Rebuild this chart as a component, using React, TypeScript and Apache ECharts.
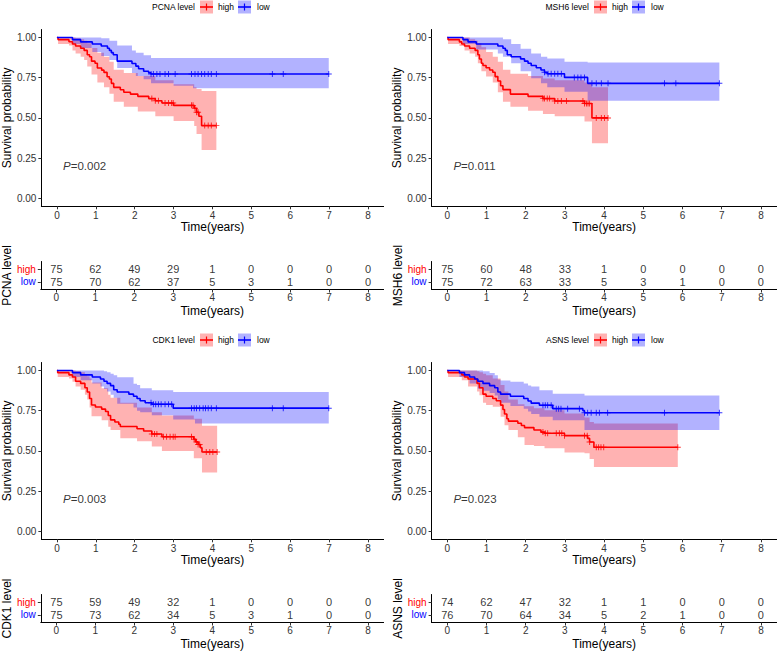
import React, { useEffect, useRef } from "react";
import * as echarts from "echarts";

const FONT = "'Liberation Sans', Arial, Helvetica, sans-serif";
const RED = "#FF0000";
const BLUE = "#0000FF";
const RED_FILL = "rgba(255,0,0,0.3)";
const BLUE_FILL = "rgba(0,0,255,0.3)";

const GENES = ["PCNA", "MSH6", "CDK1", "ASNS"];
const P_VALUES = ["0.002", "0.011", "0.003", "0.023"];
const TIME_TICKS = [0, 1, 2, 3, 4, 5, 6, 7, 8];
const SURV_TICKS = [0, 0.25, 0.5, 0.75, 1];

// ---------- PCNA ----------
const PCNA_HIGH_CURVE = [[0,1],[0.03,0.987],[0.31,0.974],[0.40,0.96],[0.48,0.947],[0.61,0.933],[0.70,0.92],[0.78,0.893],[0.84,0.88],[0.89,0.853],[0.98,0.84],[1.04,0.81],[1.15,0.797],[1.21,0.783],[1.29,0.756],[1.35,0.742],[1.40,0.715],[1.46,0.69],[1.63,0.675],[1.72,0.66],[1.89,0.648],[2.08,0.634],[2.36,0.62],[2.53,0.607],[2.70,0.593],[3.00,0.578],[3.53,0.56],[3.59,0.535],[3.65,0.51],[3.72,0.452],[4.10,0.452]];
const PCNA_HIGH_CENSOR = [2.44,2.53,2.61,2.78,2.87,2.95,2.99,3.46,3.50,3.55,3.59,3.63,3.80,3.89,3.97,4.10];
const PCNA_HIGH_CI = [[0,1,1],[0.03,0.96,1],[0.31,0.95,1],[0.40,0.92,1],[0.48,0.90,0.995],[0.61,0.88,0.99],[0.70,0.86,0.98],[0.78,0.82,0.965],[0.89,0.77,0.935],[1.04,0.72,0.905],[1.21,0.69,0.88],[1.35,0.65,0.85],[1.46,0.60,0.80],[1.72,0.57,0.78],[2.08,0.54,0.76],[2.53,0.51,0.735],[3.0,0.48,0.71],[3.53,0.45,0.69],[3.59,0.40,0.68],[3.72,0.30,0.668]];
const PCNA_LOW_CURVE = [[0,1],[0.40,0.987],[0.61,0.973],[0.91,0.96],[1.14,0.947],[1.30,0.933],[1.35,0.92],[1.40,0.906],[1.45,0.893],[1.55,0.853],[1.93,0.838],[2.03,0.822],[2.10,0.806],[2.23,0.79],[2.36,0.78],[2.42,0.773],[6.99,0.773]];
const PCNA_LOW_CENSOR = [2.42,2.48,2.57,2.65,2.78,2.87,3.04,3.46,3.55,3.63,3.72,3.80,3.89,3.97,4.10,5.54,5.82,6.99];
const PCNA_LOW_CI = [[0,1,1],[0.40,0.96,1],[0.61,0.935,1],[0.91,0.91,1],[1.14,0.885,0.995],[1.35,0.86,0.98],[1.55,0.81,0.95],[1.93,0.78,0.92],[2.03,0.76,0.905],[2.23,0.74,0.89],[2.42,0.715,0.872],[3.0,0.70,0.872],[3.5,0.685,0.872]];
const PCNA_RISK_HIGH = [75, 62, 49, 29, 1, 0, 0, 0, 0];
const PCNA_RISK_LOW = [75, 70, 62, 37, 5, 3, 1, 0, 0];

// ---------- MSH6 ----------
const MSH6_HIGH_CURVE = [[0,1],[0.02,0.987],[0.31,0.973],[0.37,0.96],[0.44,0.947],[0.57,0.933],[0.71,0.92],[0.78,0.893],[0.82,0.866],[0.87,0.84],[0.91,0.826],[0.99,0.812],[1.08,0.798],[1.16,0.784],[1.22,0.757],[1.29,0.73],[1.36,0.70],[1.42,0.676],[1.61,0.648],[2.06,0.634],[2.44,0.62],[2.74,0.605],[3.50,0.59],[3.69,0.50],[4.10,0.50]];
const MSH6_HIGH_CENSOR = [2.44,2.48,2.55,2.61,2.74,2.82,2.91,3.04,3.46,3.50,3.55,3.59,3.63,3.80,3.93,4.01,4.10];
const MSH6_HIGH_CI = [[0,1,1],[0.02,0.96,1],[0.31,0.947,1],[0.44,0.92,1],[0.57,0.90,0.99],[0.71,0.88,0.98],[0.78,0.84,0.965],[0.87,0.79,0.94],[0.99,0.757,0.91],[1.16,0.72,0.88],[1.29,0.66,0.85],[1.42,0.60,0.80],[1.61,0.57,0.775],[2.06,0.545,0.76],[2.44,0.525,0.745],[2.74,0.51,0.735],[3.50,0.477,0.72],[3.69,0.342,0.69]];
const MSH6_LOW_CURVE = [[0,1],[0.40,0.987],[0.53,0.973],[0.74,0.96],[1.29,0.947],[1.42,0.933],[1.48,0.92],[1.53,0.893],[1.63,0.88],[1.87,0.867],[1.97,0.853],[2.06,0.84],[2.14,0.826],[2.27,0.812],[2.39,0.798],[2.48,0.784],[2.55,0.775],[2.99,0.752],[3.58,0.715],[6.94,0.715]];
const MSH6_LOW_CENSOR = [2.48,2.57,2.65,2.74,2.82,2.91,3.24,3.33,3.41,3.50,3.69,3.80,3.93,4.10,5.54,5.83,6.94];
const MSH6_LOW_CI = [[0,1,1],[0.40,0.96,1],[0.74,0.925,1],[1.29,0.90,1],[1.42,0.88,0.99],[1.63,0.84,0.96],[1.87,0.79,0.93],[2.14,0.746,0.90],[2.39,0.715,0.88],[2.55,0.69,0.87],[2.99,0.663,0.85],[3.58,0.607,0.844]];
const MSH6_RISK_HIGH = [75, 60, 48, 33, 1, 0, 0, 0, 0];
const MSH6_RISK_LOW = [75, 72, 63, 33, 5, 3, 1, 0, 0];

// ---------- CDK1 ----------
const CDK1_HIGH_CURVE = [[0,1],[0.02,0.987],[0.31,0.973],[0.40,0.96],[0.48,0.933],[0.61,0.92],[0.72,0.893],[0.78,0.866],[0.84,0.826],[0.89,0.786],[0.99,0.773],[1.15,0.76],[1.25,0.745],[1.32,0.72],[1.38,0.693],[1.49,0.68],[1.59,0.666],[1.63,0.652],[2.06,0.638],[2.23,0.624],[2.44,0.605],[2.70,0.588],[3.52,0.572],[3.57,0.556],[3.63,0.54],[3.69,0.52],[3.73,0.493],[4.12,0.493]];
const CDK1_HIGH_CENSOR = [2.44,2.51,2.57,2.74,2.82,2.91,2.99,3.04,3.46,3.53,3.59,3.63,3.67,3.84,3.93,4.01,4.12];
const CDK1_HIGH_CI = [[0,1,1],[0.02,0.96,1],[0.31,0.95,1],[0.40,0.93,1],[0.48,0.90,0.995],[0.61,0.88,0.99],[0.72,0.85,0.975],[0.78,0.82,0.965],[0.84,0.77,0.95],[0.89,0.716,0.925],[1.15,0.69,0.89],[1.32,0.65,0.85],[1.38,0.63,0.83],[1.63,0.578,0.80],[2.06,0.56,0.77],[2.44,0.527,0.74],[2.70,0.50,0.72],[3.52,0.455,0.70],[3.73,0.366,0.656]];
const CDK1_LOW_CURVE = [[0,1],[0.40,0.987],[0.61,0.973],[0.91,0.96],[1.12,0.947],[1.21,0.933],[1.29,0.92],[1.38,0.906],[1.46,0.88],[1.55,0.866],[1.85,0.853],[1.97,0.84],[2.06,0.826],[2.14,0.812],[2.27,0.80],[2.44,0.79],[2.99,0.766],[6.99,0.766]];
const CDK1_LOW_CENSOR = [2.42,2.48,2.54,2.61,2.68,2.78,2.87,2.95,3.46,3.53,3.59,3.67,3.76,3.82,3.89,3.97,4.10,5.54,5.82,6.99];
const CDK1_LOW_CI = [[0,1,1],[0.40,0.96,1],[0.61,0.94,1],[0.91,0.92,1],[1.12,0.90,1],[1.21,0.885,0.995],[1.29,0.87,0.99],[1.38,0.85,0.98],[1.46,0.83,0.97],[1.55,0.794,0.959],[1.97,0.77,0.918],[2.06,0.75,0.91],[2.14,0.74,0.89],[2.44,0.722,0.877],[2.99,0.695,0.866],[3.55,0.67,0.866]];
const CDK1_RISK_HIGH = [75, 59, 49, 32, 1, 0, 0, 0, 0];
const CDK1_RISK_LOW = [75, 73, 62, 34, 5, 3, 1, 0, 0];

// ---------- ASNS ----------
const ASNS_HIGH_CURVE = [[0,1],[0.02,0.987],[0.37,0.973],[0.44,0.96],[0.53,0.947],[0.76,0.92],[0.82,0.893],[0.91,0.853],[0.99,0.84],[1.16,0.826],[1.25,0.812],[1.36,0.785],[1.42,0.758],[1.46,0.73],[1.52,0.70],[1.56,0.685],[1.80,0.672],[1.89,0.658],[1.97,0.645],[2.21,0.63],[2.39,0.617],[2.48,0.61],[2.99,0.595],[3.58,0.578],[3.63,0.555],[3.74,0.523],[5.88,0.523]];
const ASNS_HIGH_CENSOR = [2.44,2.50,2.56,2.78,2.86,2.92,2.99,3.50,3.57,3.63,3.80,3.86,3.92,3.99,5.88];
const ASNS_HIGH_CI = [[0,1,1],[0.02,0.96,1],[0.37,0.94,1],[0.53,0.90,1],[0.76,0.87,0.995],[0.82,0.846,0.99],[0.91,0.80,0.98],[0.99,0.785,0.97],[1.16,0.774,0.95],[1.36,0.712,0.91],[1.46,0.66,0.87],[1.56,0.63,0.82],[1.80,0.585,0.79],[1.97,0.537,0.778],[2.21,0.53,0.765],[2.48,0.516,0.753],[2.99,0.49,0.733],[3.50,0.485,0.708],[3.63,0.45,0.68],[3.74,0.40,0.67]];
const ASNS_LOW_CURVE = [[0,1],[0.31,0.987],[0.44,0.973],[0.57,0.96],[0.70,0.947],[0.78,0.933],[0.91,0.92],[1.08,0.906],[1.21,0.893],[1.29,0.866],[1.36,0.853],[1.61,0.84],[1.95,0.826],[2.06,0.81],[2.14,0.797],[2.35,0.784],[2.69,0.763],[3.46,0.75],[3.50,0.737],[6.94,0.737]];
const ASNS_LOW_CENSOR = [2.44,2.50,2.56,2.65,2.78,2.84,2.90,3.07,3.37,3.50,3.58,3.67,3.80,3.88,4.09,5.54,6.94];
const ASNS_LOW_CI = [[0,1,1],[0.31,0.96,1],[0.57,0.92,1],[0.78,0.887,1],[0.91,0.875,0.995],[1.08,0.86,0.985],[1.21,0.845,0.97],[1.29,0.82,0.945],[1.36,0.80,0.938],[1.61,0.78,0.93],[1.95,0.763,0.92],[2.06,0.745,0.907],[2.14,0.73,0.90],[2.35,0.712,0.877],[2.69,0.69,0.856],[3.50,0.63,0.845]];
const ASNS_RISK_HIGH = [74, 62, 47, 32, 1, 1, 0, 0, 0];
const ASNS_RISK_LOW = [76, 70, 64, 34, 5, 2, 1, 0, 0];

const PANELS = [
  { high: [PCNA_HIGH_CURVE, PCNA_HIGH_CENSOR, PCNA_HIGH_CI], low: [PCNA_LOW_CURVE, PCNA_LOW_CENSOR, PCNA_LOW_CI], riskHigh: PCNA_RISK_HIGH, riskLow: PCNA_RISK_LOW },
  { high: [MSH6_HIGH_CURVE, MSH6_HIGH_CENSOR, MSH6_HIGH_CI], low: [MSH6_LOW_CURVE, MSH6_LOW_CENSOR, MSH6_LOW_CI], riskHigh: MSH6_RISK_HIGH, riskLow: MSH6_RISK_LOW },
  { high: [CDK1_HIGH_CURVE, CDK1_HIGH_CENSOR, CDK1_HIGH_CI], low: [CDK1_LOW_CURVE, CDK1_LOW_CENSOR, CDK1_LOW_CI], riskHigh: CDK1_RISK_HIGH, riskLow: CDK1_RISK_LOW },
  { high: [ASNS_HIGH_CURVE, ASNS_HIGH_CENSOR, ASNS_HIGH_CI], low: [ASNS_LOW_CURVE, ASNS_LOW_CENSOR, ASNS_LOW_CI], riskHigh: ASNS_RISK_HIGH, riskLow: ASNS_RISK_LOW },
];

// layout (pixels)
const LAYOUT = [
  { left: 38.6, top: 29.5, legendX: 200, legendY: 7 },
  { left: 431.6, top: 29.5, legendX: 594, legendY: 7 },
  { left: 38.6, top: 362.5, legendX: 200, legendY: 340 },
  { left: 431.6, top: 362.5, legendX: 594, legendY: 340 },
];
const GRID_W = 345;
const KM_H = 176.8;
const RISK_OFF = 232;
const RISK_H = 28;

const PLUS = "path://M4.2,0 H5.8 V4.2 H10 V5.8 H5.8 V10 H4.2 V5.8 H0 V4.2 H4.2 Z";

function survAt(curve: number[][], t: number) {
  let s = curve[0][1];
  for (const [ct, cs] of curve) {
    if (ct <= t + 1e-9) s = cs;
    else break;
  }
  return s;
}

function bandPolygon(ci: number[][], tEnd: number) {
  const up: number[][] = [];
  const lo: number[][] = [];
  for (let k = 0; k < ci.length; k++) {
    const tNext = k < ci.length - 1 ? ci[k + 1][0] : tEnd;
    up.push([ci[k][0], ci[k][2]], [tNext, ci[k][2]]);
    lo.push([ci[k][0], ci[k][1]], [tNext, ci[k][1]]);
  }
  return up.concat(lo.reverse());
}

function buildOption() {
  const grid: any[] = [];
  const xAxis: any[] = [];
  const yAxis: any[] = [];
  const series: any[] = [];
  const graphic: any[] = [];

  const tickLabel = { color: "#333", fontSize: 10, fontFamily: FONT };
  const nameStyle = { color: "#000", fontSize: 12, fontFamily: FONT };

  PANELS.forEach((panel, i) => {
    const L = LAYOUT[i];
    const km = i * 2;
    const rk = i * 2 + 1;
    grid.push({ left: L.left, top: L.top, width: GRID_W, height: KM_H, containLabel: false });
    grid.push({ left: L.left, top: L.top + RISK_OFF, width: GRID_W, height: RISK_H, containLabel: false });

    const xCommon = {
      type: "value",
      min: -0.4,
      max: 8.4,
      axisLine: { show: true, onZero: false, lineStyle: { color: "#000", width: 1 } },
      axisTick: { show: true, customValues: TIME_TICKS, length: 3, lineStyle: { color: "#333" } },
      splitLine: { show: false },
      name: "Time(years)",
      nameLocation: "middle",
      nameGap: 15,
      nameTextStyle: nameStyle,
    };
    xAxis.push({ ...xCommon, gridIndex: km, axisLabel: { ...tickLabel, customValues: TIME_TICKS, margin: 4 } });
    xAxis.push({ ...xCommon, gridIndex: rk, axisLabel: { ...tickLabel, customValues: TIME_TICKS, margin: 3 } });

    yAxis.push({
      type: "value",
      gridIndex: km,
      min: -0.05,
      max: 1.05,
      axisLine: { show: true, onZero: false, lineStyle: { color: "#000", width: 1 } },
      axisTick: { show: true, customValues: SURV_TICKS, length: 3, lineStyle: { color: "#333" } },
      axisLabel: { ...tickLabel, customValues: SURV_TICKS, margin: 5, formatter: (v: number) => Number(v).toFixed(2) },
      splitLine: { show: false },
      name: "Survival probability",
      nameLocation: "middle",
      nameRotate: 90,
      nameGap: i % 2 === 0 ? 27 : 26,
      nameTextStyle: nameStyle,
    });
    yAxis.push({
      type: "value",
      gridIndex: rk,
      min: 0.4,
      max: 2.6,
      axisLine: { show: true, onZero: false, lineStyle: { color: "#000", width: 1 } },
      axisTick: { show: true, customValues: [1, 2], length: 3, lineStyle: { color: "#333" } },
      axisLabel: {
        customValues: [1, 2],
        margin: 5,
        fontSize: 10,
        fontFamily: FONT,
        formatter: (v: number) => (Number(v) === 2 ? "high" : "low"),
        color: (v: any) => (Number(v) === 2 ? RED : BLUE),
      },
      splitLine: { show: false },
      name: `${GENES[i]} level`,
      nameLocation: "middle",
      nameRotate: 90,
      nameGap: i % 2 === 0 ? 27 : 26,
      nameTextStyle: nameStyle,
    });

    const groups: [string, any[], string, string][] = [
      ["high", panel.high, RED, RED_FILL],
      ["low", panel.low, BLUE, BLUE_FILL],
    ];

    groups.forEach(([name, g, , fill]) => {
      const curve = g[0] as number[][];
      const ci = g[2] as number[][];
      const tEnd = curve[curve.length - 1][0];
      const poly = bandPolygon(ci, tEnd);
      series.push({
        type: "custom",
        name: name + " CI",
        xAxisIndex: km,
        yAxisIndex: km,
        silent: true,
        z: 1,
        data: [[0, 0]],
        renderItem: (params: any, api: any) => ({
          type: "polygon",
          shape: { points: poly.map((p) => api.coord(p)) },
          style: { fill },
        }),
      });
    });

    groups.forEach(([name, g, color]) => {
      const curve = g[0] as number[][];
      const censor = g[1] as number[];
      series.push({
        type: "line",
        name,
        xAxisIndex: km,
        yAxisIndex: km,
        data: curve,
        step: "end",
        showSymbol: false,
        symbol: "none",
        silent: true,
        z: 3,
        lineStyle: { color, width: 1.6 },
        itemStyle: { color },
      });
      series.push({
        type: "scatter",
        name,
        xAxisIndex: km,
        yAxisIndex: km,
        data: censor.map((t) => [t, survAt(curve, t)]),
        symbol: PLUS,
        symbolSize: 6,
        silent: true,
        z: 4,
        itemStyle: { color },
      });
    });

    series.push({
      type: "scatter",
      name: "pval",
      xAxisIndex: km,
      yAxisIndex: km,
      data: [[0.145, 0.2]],
      symbolSize: 1,
      silent: true,
      itemStyle: { color: "rgba(0,0,0,0)" },
      label: {
        show: true,
        position: "right",
        distance: 0,
        formatter: `{i|P}{n|=${P_VALUES[i]}}`,
        rich: {
          i: { fontStyle: "italic", fontSize: 11.5, fontFamily: FONT, color: "#000" },
          n: { fontSize: 11.5, fontFamily: FONT, color: "#000" },
        },
      },
    });

    const riskRows: [number[], number][] = [
      [panel.riskHigh, 2],
      [panel.riskLow, 1],
    ];
    riskRows.forEach(([vals, row]) => {
      series.push({
        type: "scatter",
        name: row === 2 ? "risk high" : "risk low",
        xAxisIndex: rk,
        yAxisIndex: rk,
        data: TIME_TICKS.map((t, k) => [t, row, vals[k]]),
        symbolSize: 1,
        silent: true,
        itemStyle: { color: "rgba(0,0,0,0)" },
        label: {
          show: true,
          position: "inside",
          formatter: (p: any) => String(p.value[2]),
          color: "#000",
          fontSize: 11,
          fontFamily: FONT,
        },
      });
    });

    // legend
    const cx = L.legendX;
    const cy = L.legendY;
    const txt = (x: number, text: string, align: string) => ({
      type: "text",
      x,
      y: cy,
      silent: true,
      style: { text, fontSize: 8.5, fontFamily: FONT, fill: "#000", align, verticalAlign: "middle" },
    });
    const key = (x: number, color: string, fillC: string) => [
      { type: "rect", silent: true, shape: { x, y: cy - 6.5, width: 13, height: 13 }, style: { fill: fillC } },
      { type: "line", silent: true, shape: { x1: x, y1: cy, x2: x + 13, y2: cy }, style: { stroke: color, lineWidth: 1.6 } },
      { type: "line", silent: true, shape: { x1: x + 6.5, y1: cy - 3.5, x2: x + 6.5, y2: cy + 3.5 }, style: { stroke: color, lineWidth: 1.2 } },
    ];
    graphic.push(txt(cx - 5, `${GENES[i]} level`, "right"));
    graphic.push(...key(cx, RED, RED_FILL));
    graphic.push(txt(cx + 18, "high", "left"));
    graphic.push(...key(cx + 38, BLUE, BLUE_FILL));
    graphic.push(txt(cx + 57, "low", "left"));
  });

  return {
    animation: false,
    backgroundColor: "#fff",
    textStyle: { fontFamily: FONT },
    grid,
    xAxis,
    yAxis,
    series,
    graphic,
  };
}

export default function App() {
  const ref = useRef<HTMLDivElement>(null);
  useEffect(() => {
    if (!ref.current) return;
    const chart = echarts.init(ref.current, null, { renderer: "svg" });
    chart.setOption(buildOption() as any);
    return () => chart.dispose();
  }, []);
  return <div ref={ref} style={{ position: "absolute", left: 0, top: 0, width: 778, height: 651 }} />;
}
